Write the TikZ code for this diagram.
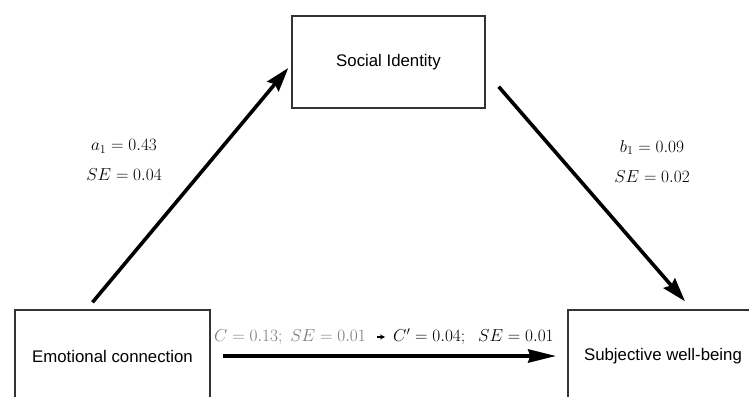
\documentclass[tikz,border=0pt]{standalone}
\usepackage{fontspec}
\newfontfamily\boxfont{Liberation Sans}
\usetikzlibrary{arrows.meta,calc}

\begin{document}
\begin{tikzpicture}[x=1pt, y=-1pt,
  factor/.style={rectangle, draw=black!80, line width=1.4pt, minimum width=193pt, minimum height=92pt, font=\boxfont\fontsize{16.8}{20}\selectfont, inner sep=0pt},
  coef/.style={align=center, font=\fontsize{16.8}{30}\selectfont, inner sep=0pt},
  link/.style={-{Stealth[length=24pt, width=15pt, inset=3pt]}, line width=3.6pt},
]
\clip (0,0) rectangle (749,396);

% === variables ===
\node[factor] (soc) at (388.5,62) {Social Identity};
\node[factor, minimum width=195pt] (emo) at (112.5,356) {Emotional connection};
\node[factor, minimum width=190pt] (swb) at (663,356) {Subjective well-being};

% === paths a and b ===
\draw[link] ([shift={(-20pt,7pt)}]emo.north) -- ([shift={(-3pt,-6pt)}]soc.west);
\draw[link] ([shift={(13pt,22pt)}]soc.south east) -- ([shift={(22pt,8pt)}]swb.north);
\node[coef] (lblA) at (124,160) {$a_1=0.43$\\$SE=0.04$};
\node[coef] (lblB) at (652,161) {$b_1=0.09$\\$SE=0.02$};

% === direct path c / c' ===
\draw[line width=4pt, -{Stealth[length=28pt, width=13pt, inset=2pt]}] ([xshift=12pt]emo.east) -- ([xshift=-11pt]swb.west);
\node[coef, text=black!52, anchor=east] (lblC) at (366,337) {$C=0.13;\ SE=0.01$};
\node[coef, anchor=west] (lblCp) at (393,337) {$C'=0.04;\ \ SE=0.01$};
\draw[-{Stealth[length=5pt, width=5pt]}, line width=1.3pt, shorten <=11pt, shorten >=8pt] (lblC) -- (lblCp);

\end{tikzpicture}
\end{document}
